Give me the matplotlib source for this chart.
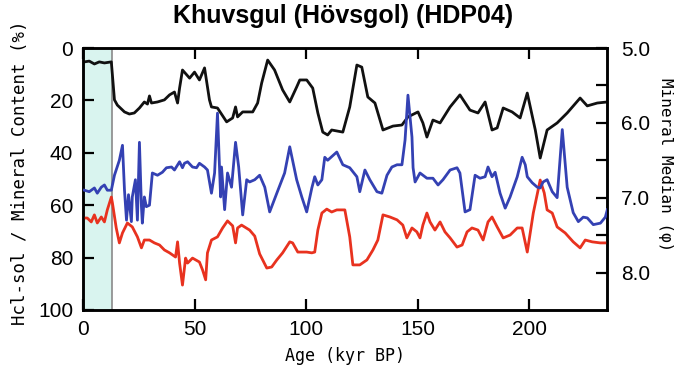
import numpy as np
import matplotlib
matplotlib.use('Agg')
import matplotlib.pyplot as plt
from matplotlib.ticker import MultipleLocator, FixedLocator

# HCl-soluble content (%), black
age_hcl = [0.6, 2.8, 5.1, 7.3, 9.6, 12.7, 14.1, 15.4, 18.6, 20.8, 23.0, 25.3, 27.5, 28.9,
           29.8, 30.7, 33.4, 36.5, 38.8, 41.0, 42.4, 43.3, 44.6, 47.8, 50.0, 52.2, 54.5,
           56.7, 57.6, 60.3, 64.4, 67.1, 68.4, 69.3, 71.6, 76.1, 78.3, 80.1, 82.8, 85.9,
           89.5, 92.7, 95.8, 97.2, 100.3, 103.0, 105.3, 107.5, 109.7, 111.5, 116.5, 119.6,
           122.8, 125.0, 127.7, 130.9, 134.5, 139.0, 143.0, 145.7, 150.2, 152.4, 154.2,
           156.9, 160.1, 164.6, 169.0, 173.5, 177.1, 180.3, 183.4, 185.7, 188.4, 192.4,
           196.0, 199.2, 202.8, 205.0, 208.1, 212.6, 217.1, 222.9, 226.1, 230.6, 235.1]
hcl = [5.3, 5.0, 6.1, 5.3, 5.7, 5.3, 19.8, 21.8, 24.4, 25.2, 24.8, 22.9, 20.6, 21.4,
       18.3, 21.0, 20.6, 19.8, 17.9, 16.8, 21.0, 15.3, 8.4, 11.5, 9.2, 12.2, 7.6,
       19.8, 22.5, 22.9, 28.2, 26.7, 22.5, 26.3, 24.4, 24.4, 21.0, 13.4, 4.6, 8.4,
       16.0, 20.6, 14.9, 12.2, 12.2, 15.3, 24.8, 32.1, 33.2, 31.3, 32.1, 22.5,
       6.5, 7.3, 18.7, 21.0, 31.3, 29.8, 29.4, 26.3, 24.4, 28.6, 34.0,
       27.5, 28.6, 22.5, 17.9, 23.7, 24.8, 20.6, 31.3, 30.5, 22.9, 24.4,
       26.7, 17.2, 31.3, 42.0, 31.3, 28.6, 24.8, 19.1, 22.1, 21.0, 20.6]

# mineral content (%), red
age_min = [0.6, 1.9, 3.7, 5.1, 6.4, 8.2, 9.6, 10.9, 12.7, 13.2, 14.9, 16.3, 17.7, 19.9,
           22.1, 24.4, 26.2, 27.5, 29.8, 32.0, 34.3, 36.5, 38.8, 41.5, 42.4, 43.3, 44.6,
           46.0, 46.9, 49.1, 52.2, 53.6, 55.0, 55.8, 57.6, 60.3, 62.6, 64.8, 67.1, 68.4,
           69.3, 71.1, 74.7, 77.0, 79.2, 82.4, 84.6, 86.9, 89.5, 92.7, 94.0, 96.3, 100.3,
           102.6, 103.9, 105.3, 107.1, 109.3, 111.5, 113.8, 117.4, 119.6, 121.0, 124.1,
           127.3, 130.0, 132.2, 134.5, 137.6, 140.8, 143.4, 145.2, 147.5, 149.7, 151.1,
           152.4, 154.2, 155.6, 157.8, 160.1, 162.3, 164.6, 167.7, 170.0, 172.2, 174.4,
           177.1, 179.4, 181.6, 183.4, 185.7, 188.4, 191.5, 194.7, 196.9, 199.2, 201.9,
           205.0, 206.8, 208.1, 210.4, 212.6, 216.2, 219.8, 222.9, 225.2, 228.3, 231.9, 235.1]
mineral = [64.9, 64.9, 66.4, 63.7, 66.8, 64.5, 66.4, 61.8, 56.9, 59.2, 68.7, 74.4, 70.6, 66.8,
           68.3, 72.1, 76.3, 73.3, 73.3, 74.4, 75.2, 77.1, 78.2, 79.8, 74.0, 82.1, 90.5,
           80.2, 82.1, 80.2, 81.7, 84.7, 88.5, 78.2, 73.3, 72.1, 68.7, 66.0, 67.9, 74.4,
           68.7, 67.6, 69.5, 71.8, 78.6, 84.0, 83.6, 80.9, 78.2, 74.0, 74.4, 77.9, 77.9,
           78.2, 77.9, 69.5, 63.0, 61.5, 62.6, 61.8, 61.8, 72.1, 82.8, 82.8,
           80.9, 77.1, 73.3, 63.7, 64.5, 65.6, 67.6, 72.5, 68.7, 70.2, 72.5,
           67.6, 63.0, 66.4, 69.5, 66.4, 70.2, 72.5, 76.0, 75.2, 70.2, 68.7,
           69.5, 73.3, 66.4, 64.5, 68.3, 72.5, 71.4, 68.7, 68.7, 77.9, 63.0,
           50.4, 55.3, 61.8, 63.0, 68.3, 70.6, 74.0, 76.3, 73.3, 74.0, 74.4, 74.4]

# mineral median grain size (phi), blue
age_med = [0.6, 2.8, 5.1, 6.4, 8.2, 9.6, 10.9, 12.7, 14.1, 16.3, 17.7, 18.6, 19.5, 20.4,
           21.7, 22.1, 23.5, 24.4, 25.3, 26.2, 26.6, 27.5, 28.4, 29.8, 31.1, 33.4, 35.6,
           37.4, 39.7, 41.0, 43.3, 44.6, 45.5, 46.9, 49.1, 50.9, 52.2, 54.5, 55.8, 57.6,
           59.0, 60.3, 61.7, 62.1, 63.5, 64.8, 66.6, 68.4, 69.8, 71.6, 73.4, 74.7, 77.0,
           79.2, 81.5, 83.7, 86.9, 90.4, 92.7, 95.8, 98.1, 100.3, 102.6, 103.9, 105.3,
           107.1, 108.4, 109.7, 113.8, 116.5, 119.6, 122.8, 124.1, 126.4, 128.6, 131.8,
           134.0, 136.3, 138.5, 140.8, 143.0, 144.4, 145.7, 147.5, 148.0, 148.9, 151.1,
           154.2, 156.9, 159.2, 161.4, 164.6, 167.7, 169.0, 171.3, 173.5, 175.8, 178.0,
           180.3, 181.6, 183.4, 184.8, 187.0, 189.3, 191.5, 194.7, 196.9, 198.3, 199.2,
           201.4, 203.7, 205.0, 206.3, 208.1, 210.4, 212.6, 214.9, 217.1, 219.8, 222.1,
           224.3, 226.1, 228.8, 232.0, 234.2, 235.1]
median = [6.90, 6.92, 6.87, 6.94, 6.86, 6.83, 6.90, 6.90, 6.70, 6.50, 6.30, 6.90, 7.30, 6.96,
          7.32, 6.99, 6.76, 7.30, 6.26, 7.12, 7.34, 6.99, 7.12, 7.10, 6.67, 6.70, 6.66,
          6.60, 6.59, 6.63, 6.52, 6.60, 6.54, 6.52, 6.59, 6.60, 6.54, 6.59, 6.63, 6.94,
          6.67, 5.87, 6.99, 6.59, 7.16, 6.67, 6.86, 6.26, 6.59, 7.23, 6.76, 6.79, 6.76,
          6.70, 6.86, 7.19, 6.94, 6.67, 6.32, 6.76, 6.99, 7.19, 6.87, 6.72, 6.83,
          6.76, 6.46, 6.50, 6.39, 6.56, 6.60, 6.72, 6.92, 6.63, 6.76, 6.92,
          6.94, 6.70, 6.59, 6.56, 6.56, 6.23, 5.63, 6.19, 6.60, 6.79, 6.67,
          6.74, 6.74, 6.83, 6.76, 6.63, 6.60, 6.67, 7.19, 7.16, 6.70, 6.74,
          6.72, 6.59, 6.72, 6.66, 6.94, 7.14, 6.99, 6.72, 6.46, 6.56, 6.72,
          6.80, 6.86, 6.87, 6.79, 6.76, 6.92, 7.00, 6.09, 6.86, 7.20, 7.32,
          7.26, 7.27, 7.36, 7.34, 7.26, 7.16]

holocene = (0, 13)

tick_font = ['Liberation Sans Narrow', 'Liberation Sans', 'DejaVu Sans']
label_font = ['DejaVu Sans Mono', 'DejaVu Sans']

fig = plt.figure(figsize=(6.86, 3.78), dpi=100)
ax = fig.add_axes([0.121, 0.180, 0.764, 0.693])
ax2 = ax.twinx()

ax.axvspan(holocene[0], holocene[1], color='#d9f4ef', zorder=0, lw=0)
ax.axvline(holocene[1], color='#8a8a8a', lw=1.2, zorder=1)

ax.plot(age_hcl, hcl, color='#111111', lw=2.0, zorder=3)
ax.plot(age_min, mineral, color='#e8321f', lw=2.0, zorder=3)
ax2.plot(age_med, median, color='#3441b3', lw=2.0, zorder=3)

ax.set_xlim(0, 235)
ax.set_ylim(100, 0)
ax2.set_ylim(8.5, 5.0)

ax.xaxis.set_major_locator(MultipleLocator(50))
ax.yaxis.set_major_locator(MultipleLocator(20))
ax2.yaxis.set_major_locator(FixedLocator([5.0, 6.0, 7.0, 8.0]))
ax2.yaxis.set_minor_locator(FixedLocator([5.5, 6.5, 7.5]))
ax2.set_yticklabels(['5.0', '6.0', '7.0', '8.0'])

ax.tick_params(axis='both', direction='in', length=8, width=1.6, top=True,
               labelsize=15, pad=7)
ax2.tick_params(axis='y', which='both', direction='in', length=8, width=1.6,
                labelsize=15, pad=10)
for lab in ax.get_xticklabels() + ax.get_yticklabels() + ax2.get_yticklabels():
    lab.set_family(tick_font)

for a in (ax, ax2):
    for s in a.spines.values():
        s.set_linewidth(1.8)

ax.set_xlabel('Age (kyr BP)', family=label_font, fontsize=12, labelpad=6)
ax.set_ylabel('Hcl-sol / Mineral Content (%)', family=label_font, fontsize=12.5,
              va='center')
ax.yaxis.set_label_coords(-0.12, 0.525)
ax2.set_ylabel('Mineral Median (\u03c6)', family=label_font, fontsize=11.5,
               rotation=270, va='center')
ax2.yaxis.set_label_coords(1.112, 0.555)

fig.suptitle('Khuvsgul (H\u00f6vsgol) (HDP04)', fontsize=18, fontweight='bold',
             family=['Liberation Sans', 'DejaVu Sans'], x=0.5, y=0.99)

fig.savefig('out.png', dpi=100)
